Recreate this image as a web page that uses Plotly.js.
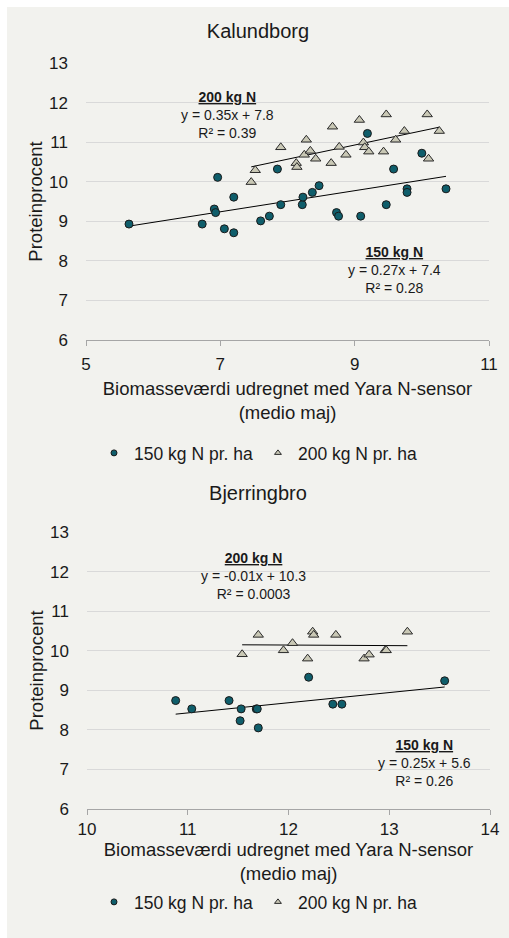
<!DOCTYPE html>
<html>
<head>
<meta charset="utf-8">
<script src="https://cdn.plot.ly/plotly-3.0.1.min.js"></script>
<style>
  html, body { margin: 0; padding: 0; background: #ffffff; }
  #bg { position: absolute; left: 7px; top: 7px; width: 502px; height: 931px; background: #f2f2ee; }
  #c1 { position: absolute; left: 7px; top: 7px; width: 502px; height: 470px; }
  #c2 { position: absolute; left: 7px; top: 477px; width: 502px; height: 461px; }
</style>
</head>
<body>
<div id="bg"></div>
<div id="c1"></div>
<div id="c2"></div>
<script>
// ---------- Kalundborg ----------
const kal150X = [5.64, 6.73, 6.91, 6.93, 6.96, 7.06, 7.20, 7.20, 7.60, 7.73, 7.85, 7.90, 8.22, 8.23, 8.37, 8.47, 8.73, 8.76, 9.09, 9.19, 9.47, 9.58, 9.78, 9.78, 10.00, 10.36];
const kal150Y = [8.93, 8.93, 9.31, 9.22, 10.11, 8.81, 9.61, 8.71, 9.01, 9.13, 10.32, 9.42, 9.42, 9.61, 9.73, 9.90, 9.22, 9.13, 9.13, 11.22, 9.42, 10.32, 9.82, 9.73, 10.72, 9.82];
const kal200X = [7.46, 7.52, 7.90, 8.13, 8.14, 8.25, 8.28, 8.34, 8.42, 8.65, 8.67, 8.77, 8.87, 9.07, 9.13, 9.15, 9.21, 9.43, 9.47, 9.61, 9.74, 10.08, 10.10, 10.26];
const kal200Y = [9.99, 10.29, 10.87, 10.47, 10.37, 10.68, 11.06, 10.78, 10.58, 10.47, 11.39, 10.88, 10.68, 11.56, 10.99, 10.87, 10.76, 10.76, 11.70, 11.06, 11.28, 11.70, 10.58, 11.28];

// ---------- Bjerringbro ----------
const bje150X = [10.88, 11.04, 11.41, 11.53, 11.52, 11.68, 11.69, 11.70, 12.20, 12.44, 12.53, 13.55];
const bje150Y = [8.74, 8.53, 8.74, 8.53, 8.23, 8.53, 8.53, 8.05, 9.33, 8.65, 8.65, 9.24];
const bje200X = [11.54, 11.70, 11.95, 12.04, 12.19, 12.24, 12.25, 12.47, 12.75, 12.80, 12.96, 12.97, 13.18];
const bje200Y = [9.91, 10.40, 10.01, 10.19, 9.80, 10.48, 10.40, 10.40, 9.80, 9.90, 10.01, 10.01, 10.48];

const seriesNames = ["150 kg N pr. ha", "200 kg N pr. ha"];
const kalEq200 = ["200 kg N", "y = 0.35x + 7.8", "R² = 0.39"];
const kalEq150 = ["150 kg N", "y = 0.27x + 7.4", "R² = 0.28"];
const bjeEq200 = ["200 kg N", "y = -0.01x + 10.3", "R² = 0.0003"];
const bjeEq150 = ["150 kg N", "y = 0.25x + 5.6", "R² = 0.26"];
const yTitle = "Proteinprocent";
const xTitle = "Biomasseværdi udregnet med Yara N-sensor<br>(medio maj)";

const FONT = "Liberation Sans, Arial, sans-serif";
const TXT = "#1a1a1a";
const BG = "#f2f2ee";
const C150 = "#0f5e6b";
const C200 = "#c9c8b5";

function linfit(xs, ys) {
  const n = xs.length;
  let sx = 0, sy = 0, sxx = 0, sxy = 0;
  for (let i = 0; i < n; i++) { sx += xs[i]; sy += ys[i]; sxx += xs[i]*xs[i]; sxy += xs[i]*ys[i]; }
  const b = (n*sxy - sx*sy) / (n*sxx - sx*sx);
  const a = (sy - b*sx) / n;
  const x0 = Math.min(...xs), x1 = Math.max(...xs);
  return { x: [x0, x1], y: [a + b*x0, a + b*x1] };
}

function eqText(lines) {
  return "<b><u>" + lines[0] + "</u></b><br>" + lines[1] + "<br>" + lines[2];
}

function makeTraces(x150, y150, x200, y200) {
  const t150 = linfit(x150, y150), t200 = linfit(x200, y200);
  return [
    { x: t150.x, y: t150.y, mode: "lines", line: { color: "#000", width: 1 }, showlegend: false, hoverinfo: "skip" },
    { x: t200.x, y: t200.y, mode: "lines", line: { color: "#000", width: 1 }, showlegend: false, hoverinfo: "skip" },
    { x: x150, y: y150, mode: "markers", showlegend: false,
      marker: { symbol: "circle", size: 8, color: C150, line: { color: "#1a1a1a", width: 1 } } },
    { x: x200, y: y200, mode: "markers", showlegend: false,
      marker: { symbol: "triangle-up", size: 9, color: C200, line: { color: "#2a2a2a", width: 1 } } },
    { x: [null], y: [null], mode: "markers", name: seriesNames[0],
      marker: { symbol: "circle", size: 6, color: C150, line: { color: "#1a1a1a", width: 1 } } },
    { x: [null], y: [null], mode: "markers", name: seriesNames[1],
      marker: { symbol: "triangle-up", size: 6, color: C200, line: { color: "#2a2a2a", width: 1 } } }
  ];
}

function makeLayout(opt) {
  return {
    width: 502, height: opt.height,
    paper_bgcolor: BG, plot_bgcolor: BG,
    font: { family: FONT, color: TXT, size: 18 },
    margin: opt.margin,
    title: { text: opt.title, font: { size: 20, color: TXT, family: FONT },
             x: 0.5, xref: "container", xanchor: "center", y: opt.titleY, yref: "container", yanchor: "middle" },
    xaxis: {
      range: opt.xrange, dtick: opt.xdtick, tick0: opt.xrange[0],
      showgrid: false, zeroline: false,
      showline: true, linecolor: "#a6a6a6", linewidth: 1,
      ticks: "outside", ticklen: 5, tickcolor: "#a6a6a6",
      tickfont: { size: 17, color: TXT }, ticklabelstandoff: opt.xtickstand,
      title: { text: xTitle, font: { size: 18.5, color: TXT }, standoff: opt.xstandoff },
      automargin: false, fixedrange: true
    },
    yaxis: {
      range: [6, 13], dtick: 1, tick0: 6,
      showgrid: true, gridcolor: "#d9d9d9", gridwidth: 1,
      zeroline: false, showline: false, ticks: "",
      tickfont: { size: 17, color: TXT }, ticklabelstandoff: 17,
      title: { text: yTitle, font: { size: 18.5, color: TXT }, standoff: 1 },
      automargin: false, fixedrange: true
    },
    legend: {
      orientation: "h", xref: "container", x: 0.5, xanchor: "center",
      yref: "container", y: opt.legendY, yanchor: "middle",
      font: { size: 17.5, color: TXT }, bgcolor: "rgba(0,0,0,0)", itemwidth: 30
    },
    annotations: [
      { text: eqText(opt.eq200), x: opt.a200[0], y: opt.a200[1], xref: "x", yref: "y",
        showarrow: false, font: { size: 14, color: TXT }, align: "center" },
      { text: eqText(opt.eq150), x: opt.a150[0], y: opt.a150[1], xref: "x", yref: "y",
        showarrow: false, font: { size: 14, color: TXT }, align: "center" }
    ],
    showlegend: true
  };
}

const cfg = { displayModeBar: false, staticPlot: true };

Plotly.newPlot("c1", makeTraces(kal150X, kal150Y, kal200X, kal200Y), makeLayout({
  height: 470, margin: { l: 79, r: 20, t: 56, b: 137 },
  title: "Kalundborg", titleY: 1 - 24/470,
  xrange: [5, 11], xdtick: 2, xstandoff: 8, xtickstand: 4,
  legendY: 24/470,
  eq200: kalEq200, eq150: kalEq150,
  a200: [7.10, 11.69], a150: [9.59, 7.77]
}), cfg);

Plotly.newPlot("c2", makeTraces(bje150X, bje150Y, bje200X, bje200Y), makeLayout({
  height: 461, margin: { l: 80, r: 19, t: 55, b: 129 },
  title: "Bjerringbro", titleY: 1 - 16/461,
  xrange: [10, 14], xdtick: 1, xstandoff: 16, xtickstand: 0,
  legendY: 36/461,
  eq200: bjeEq200, eq150: bjeEq150,
  a200: [11.65, 11.88], a150: [13.35, 7.16]
}), cfg);
</script>
</body>
</html>
